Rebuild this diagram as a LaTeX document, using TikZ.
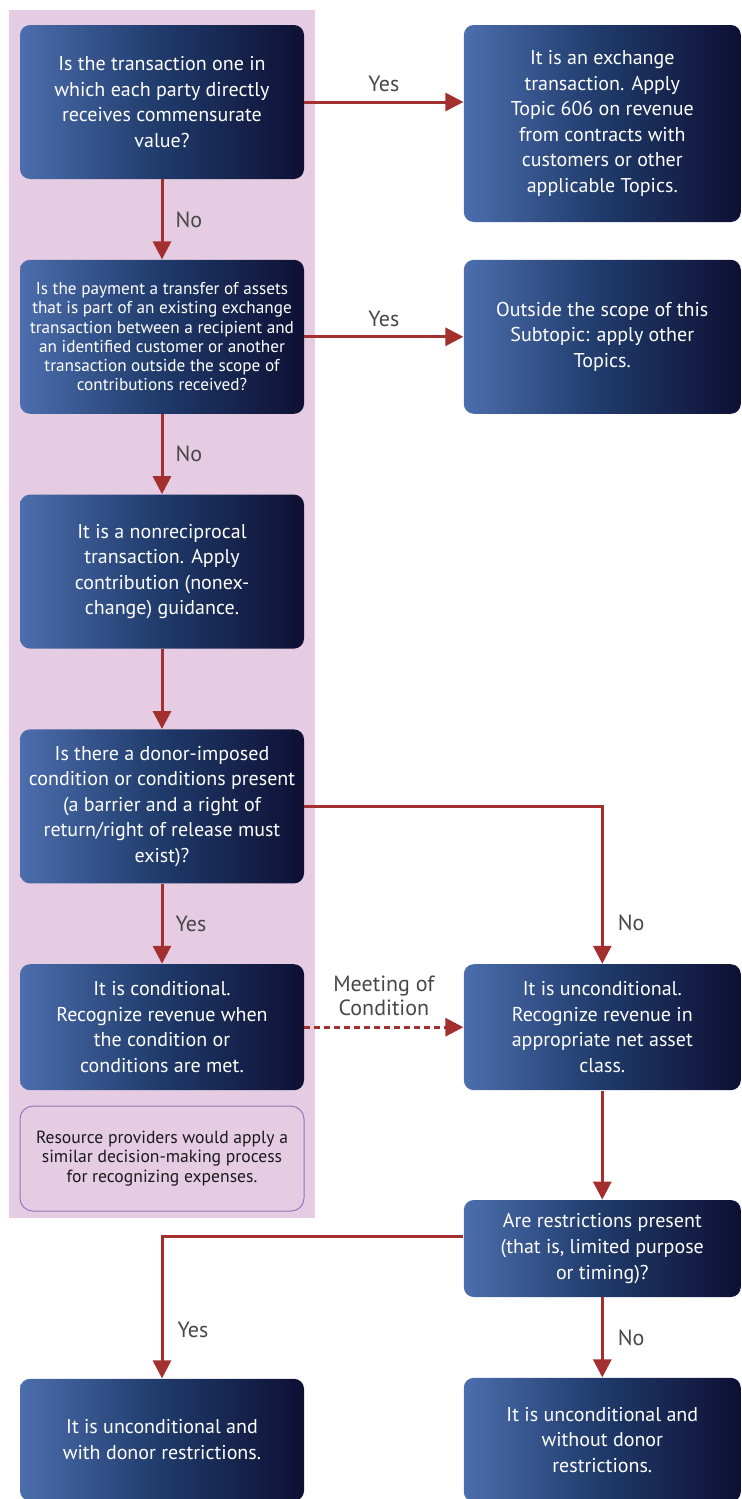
\documentclass[tikz,border=0pt]{standalone}
\usepackage{fontspec}
\setmainfont{PT Sans}
\usetikzlibrary{arrows.meta, calc, positioning}
\definecolor{cPink}{HTML}{E5CCE3}
\definecolor{cBoxL}{HTML}{4C6EAD}
\definecolor{cBoxM}{HTML}{1F3A6A}
\definecolor{cBoxR}{HTML}{0E0F33}
\definecolor{cRed}{HTML}{A3302F}
\definecolor{cGrey}{HTML}{474747}
\definecolor{cLilac}{HTML}{9C72BA}
\definecolor{cInk}{HTML}{1A1A1A}

\begin{document}
\begin{tikzpicture}[x=0.5pt, y=-0.5pt,
  node distance=40pt,
  decbox/.style={rounded corners=5pt, left color=cBoxL, right color=cBoxR, middle color=cBoxM,
                 text=white, align=center, minimum width=142pt, minimum height=77pt, inner sep=2pt,
                 font=\fontsize{10}{12.8}\selectfont},
  rbox/.style={decbox, minimum width=138.5pt},
  notebox/.style={draw=cLilac, line width=0.5pt, rounded corners=6.5pt, align=center,
                  minimum width=142pt, minimum height=52.5pt, text=cInk,
                  font=\fontsize{8.8}{9.75}\selectfont},
  arr/.style={-{Triangle[length=9pt, width=9pt]}, line width=1.5pt, cRed},
  dotarr/.style={arr, dash pattern=on 3pt off 2pt},
  lbl/.style={text=cGrey, inner sep=1pt, font=\fontsize{11}{12}\selectfont}]
  \useasboundingbox (0,0) rectangle (741,1499);
  \fill[cPink] (9,10) rectangle (315,1218);
  % left column
  \node[decbox] (L1) at (162,102) {Is the transaction one in\\which each party directly\\receives commensurate\\value?};
  \node[decbox, below=of L1, font=\fontsize{8.6}{9.6}\selectfont] (L2) {Is the payment a transfer of assets\\that is part of an existing exchange\\transaction between a recipient and\\an identified customer or another\\transaction outside the scope of\\contributions received?};
  \node[decbox, below=of L2] (L3) {It is a nonreciprocal\\transaction. Apply\\contribution (nonex-\\change) guidance.};
  \node[decbox, below=of L3] (L4) {Is there a donor-imposed\\condition or conditions present\\(a barrier and a right of\\return/right of release must\\exist)?};
  \node[decbox, below=of L4, minimum height=63pt] (L5) {It is conditional.\\Recognize revenue when\\the condition or\\conditions are met.};
  \node[notebox, below=7.5pt of L5] (note) {Resource providers would apply a\\similar decision-making process\\for recognizing expenses.};
  % right column
  \node[rbox, minimum height=98.5pt, anchor=north west] (R1) at ([xshift=79.5pt]L1.north east) {It is an exchange\\transaction. Apply\\Topic 606 on revenue\\from contracts with\\customers or other\\applicable Topics.};
  \node[rbox, right=79.5pt of L2] (R2) {Outside the scope of this\\Subtopic: apply other\\Topics.};
  \node[rbox, minimum height=63pt, right=79.5pt of L5] (R5) {It is unconditional.\\Recognize revenue in\\appropriate net asset\\class.};
  \node[rbox, minimum height=48.5pt, below=54.5pt of R5] (R6) {Are restrictions present\\(that is, limited purpose\\or timing)?};
  \node[rbox, minimum height=62pt, below=of R6] (R7) {It is unconditional and\\without donor\\restrictions.};
  \node[decbox, minimum height=61pt, left=79.5pt of R7] (L7) {It is unconditional and\\with donor restrictions.};
  % connectors
  \draw[arr] (L1.east) -- node[lbl, above=3.5pt] {Yes} (L1.east -| R1.west);
  \draw[arr] (L1) -- node[lbl, right=5pt] {No} (L2);
  \draw[arr] (L2) -- node[lbl, above=3.5pt] {Yes} (R2);
  \draw[arr] (L2) -- node[lbl, right=5pt] {No} (L3);
  \draw[arr] (L3) -- (L4);
  \draw[arr] (L4) -- node[lbl, right=5pt] {Yes} (L5);
  \draw[arr] (L4.east) -| node[lbl, pos=0.87, right=6pt] {No} (R5.north);
  \draw[dotarr] (L5) -- node[lbl, above=4pt, align=center] {Meeting of\\Condition} (R5);
  \draw[arr] (R5) -- (R6);
  \draw[arr] ([yshift=6pt]R6.west) -| node[lbl, pos=0.83, right=6pt] {Yes} (L7.north);
  \draw[arr] (R6) -- node[lbl, right=6pt] {No} (R7);
\end{tikzpicture}
\end{document}
